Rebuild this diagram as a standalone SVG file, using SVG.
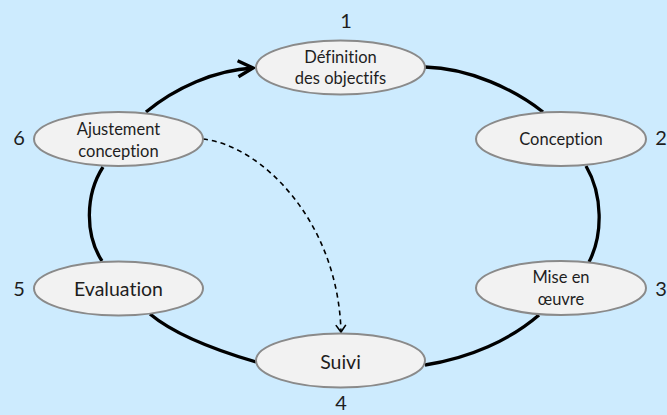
<svg xmlns="http://www.w3.org/2000/svg" width="667" height="415" viewBox="0 0 667 415">
<defs>
<style>
.node ellipse{fill:#f2f2f2;stroke:#8a8a8a;stroke-width:2}
.lbl{font-family:Lato,"Liberation Sans",sans-serif;fill:#1e1e1e;text-anchor:middle;font-variant-ligatures:none}
.s{font-size:16.5px}
.l{font-size:19.5px}
.num{font-family:Lato,"Liberation Sans",sans-serif;font-size:20px;fill:#1e1e1e;text-anchor:middle}
.c{fill:none;stroke:#000;stroke-width:3.3}
.d{fill:none;stroke:#000;stroke-width:1.6;stroke-dasharray:5 4}
</style>
<marker id="ah" markerUnits="userSpaceOnUse" viewBox="-18 -10 20 20" refX="0" refY="0" markerWidth="20" markerHeight="20" orient="auto">
<path d="M -15 -8 L 0 0 L -15 8" fill="none" stroke="#000" stroke-width="3.3" stroke-linejoin="miter"/>
</marker>
<marker id="ahd" markerUnits="userSpaceOnUse" viewBox="-10 -7 12 14" refX="0" refY="0" markerWidth="12" markerHeight="14" orient="auto">
<path d="M -7 -5 L 0 0 L -7 5" fill="none" stroke="#000" stroke-width="1.6"/>
</marker>
</defs>
<rect width="667" height="415" fill="#cdebfe"/>
<g id="connectors">
<path class="c" d="M 146 112 C 175 88, 215 70, 253 68" marker-end="url(#ah)"/>
<path class="c" d="M 425 67 C 470 68, 515 90, 543 112"/>
<path class="c" d="M 586 166 C 603 195, 603 235, 589 262"/>
<path class="c" d="M 539 315 C 510 340, 470 358, 425 365"/>
<path class="c" d="M 256 362 C 215 350, 175 335, 150 314"/>
<path class="c" d="M 102 261 C 85 235, 85 195, 103 167"/>
<path class="d" d="M 203 139 C 260 145, 338 220, 341 332" marker-end="url(#ahd)"/>
</g>
<g id="n1" class="node">
<ellipse cx="340.5" cy="67.5" rx="84.5" ry="27"/>
<text class="lbl s" x="340.5" y="63">Définition</text>
<text class="lbl s" x="340.5" y="84">des objectifs</text>
<text class="num" x="346" y="28">1</text>
</g>
<g id="n2" class="node">
<ellipse cx="561" cy="139" rx="85" ry="27"/>
<text class="lbl s" x="561" y="145">Conception</text>
<text class="num" x="661" y="145">2</text>
</g>
<g id="n3" class="node">
<ellipse cx="561" cy="288" rx="85" ry="27"/>
<text class="lbl s" x="561" y="283">Mise en</text>
<text class="lbl s" x="561" y="305">œuvre</text>
<text class="num" x="661" y="296">3</text>
</g>
<g id="n4" class="node">
<ellipse cx="340.5" cy="360.5" rx="84.5" ry="27"/>
<text class="lbl l" x="340.5" y="369">Suivi</text>
<text class="num" x="341" y="410">4</text>
</g>
<g id="n5" class="node">
<ellipse cx="118.5" cy="288.5" rx="84.5" ry="27"/>
<text class="lbl l" x="118.5" y="296">Evaluation</text>
<text class="num" x="19" y="296">5</text>
</g>
<g id="n6" class="node">
<ellipse cx="118.5" cy="139" rx="84.5" ry="27"/>
<text class="lbl s" x="118.5" y="135">Ajustement</text>
<text class="lbl s" x="118.5" y="157">conception</text>
<text class="num" x="19" y="145">6</text>
</g>
</svg>
